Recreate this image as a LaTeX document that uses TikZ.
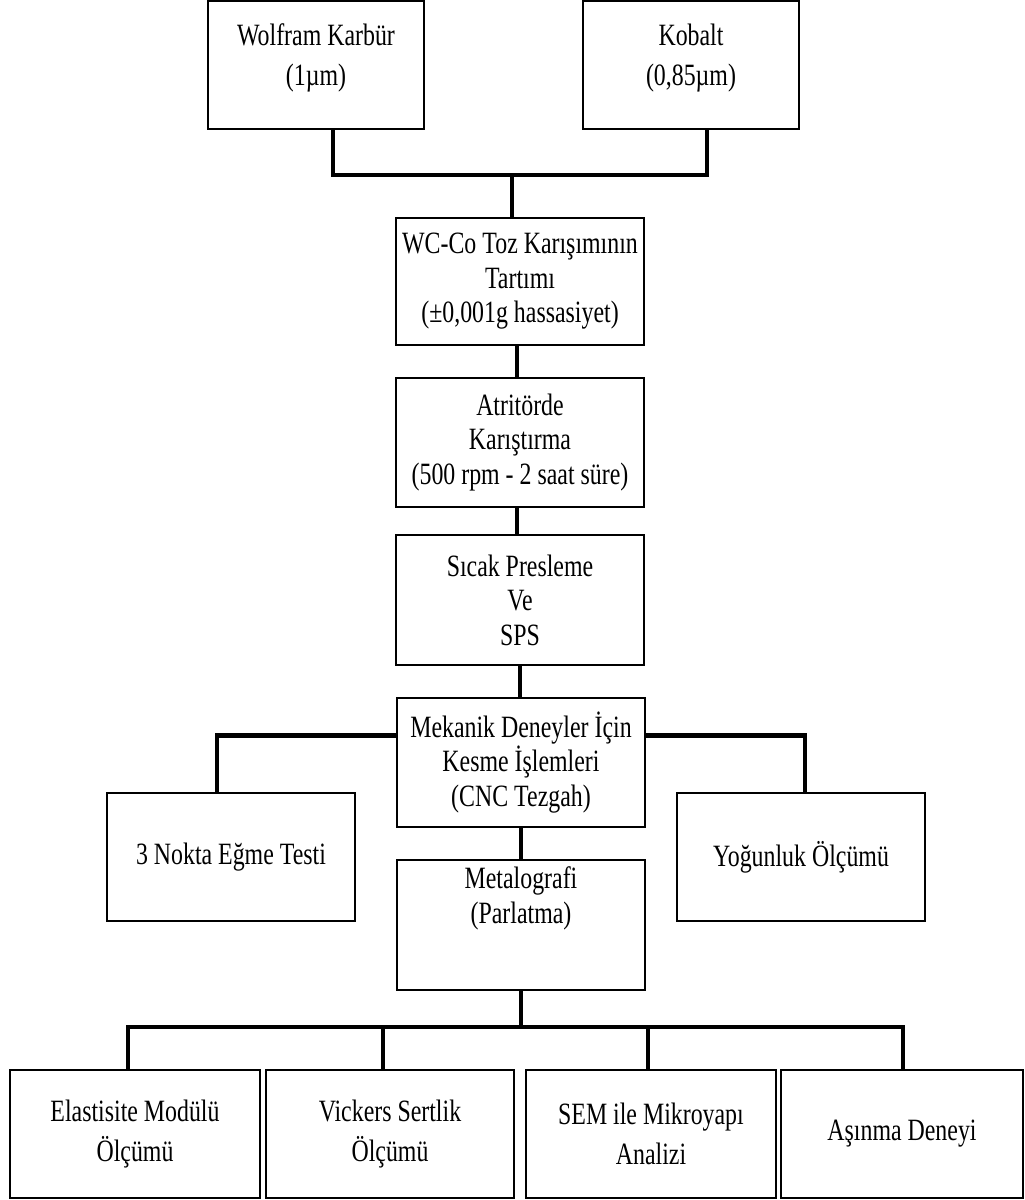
\documentclass[tikz,border=0pt]{standalone}
\usepackage{fontspec}
\setmainfont[FakeStretch=0.77]{Liberation Serif}
\begin{document}
\begin{tikzpicture}[x=1pt,y=-1pt,
  box/.style={draw=black,line width=1.3pt,align=center,inner sep=0pt,
    font=\fontsize{31}{34.5}\selectfont},
  mid/.style={box,minimum width=248pt},
  wide/.style={box,font=\fontsize{31}{40}\selectfont},
  conn/.style={line width=4.5pt,line join=miter}]
\useasboundingbox (0,0) rectangle (1025,1200);
% top inputs
\node[wide,minimum width=216pt,minimum height=128pt,text depth=20pt] (wolf) at (316,65) {Wolfram Karbür\\(1µm)};
\node[wide,minimum width=216pt,minimum height=128pt,text depth=20pt] (kob) at (691,65) {Kobalt\\(0,85µm)};
% main chain
\node[mid,minimum height=127pt] (wc) at (520,281.5) {WC-Co Toz Karışımının\\Tartımı\\(±0,001g hassasiyet)};
\node[mid,minimum height=129pt] (atr) at (520,442.5) {Atritörde\\Karıştırma\\(500 rpm - 2 saat süre)};
\node[mid,minimum height=130pt] (sic) at (520,600) {Sıcak Presleme\\Ve\\SPS};
\node[mid,minimum height=129pt] (mek) at (521,762.5) {Mekanik Deneyler İçin\\Kesme İşlemleri\\(CNC Tezgah)};
% side branches
\node[mid,minimum height=128pt] (nokta) at (231,857) {3 Nokta Eğme Testi};
\node[mid,minimum height=128pt] (yog) at (801,857) {Yoğunluk Ölçümü};
% metallography
\node[mid,minimum height=130pt,text depth=60pt] (met) at (521,925) {Metalografi\\(Parlatma)};
% bottom row
\node[wide,minimum width=250pt,minimum height=128pt] (ela) at (135,1134) {Elastisite Modülü\\Ölçümü};
\node[wide,minimum width=248pt,minimum height=128pt] (vic) at (390,1134) {Vickers Sertlik\\Ölçümü};
\node[wide,minimum width=250pt,minimum height=128pt] (sem) at (651,1134) {SEM ile Mikroyapı\\Analizi};
\node[wide,minimum width=242pt,minimum height=128pt] (asi) at (902,1134) {Aşınma Deneyi};
% connectors
\coordinate (j1) at (512,175);
\draw[conn] ([xshift=17pt]wolf.south) |- (j1) -| ([xshift=16pt]kob.south);
\draw[conn] (j1) -- (wc.north -| j1);
\draw[conn] ([xshift=-3pt]wc.south) -- ([xshift=-3pt]atr.north);
\draw[conn] ([xshift=-3pt]atr.south) -- ([xshift=-3pt]sic.north);
\draw[conn] (sic.south) -- (mek.north -| sic.south);
\draw[conn] ([yshift=27pt]mek.west) -| ([xshift=-14pt]nokta.north);
\draw[conn] ([yshift=27pt]mek.east) -| ([xshift=4pt]yog.north);
\draw[conn] (mek.south) -- (met.north);
\coordinate (j2) at (521,1027);
\draw[conn] (met.south) -- (j2);
\draw[conn] ([xshift=-7pt]ela.north) |- (j2);
\draw[conn] ([xshift=-7pt]vic.north) |- (j2);
\draw[conn] ([xshift=-3pt]sem.north) |- (j2);
\draw[conn] ([xshift=1pt]asi.north) |- (j2);
\end{tikzpicture}
\end{document}
